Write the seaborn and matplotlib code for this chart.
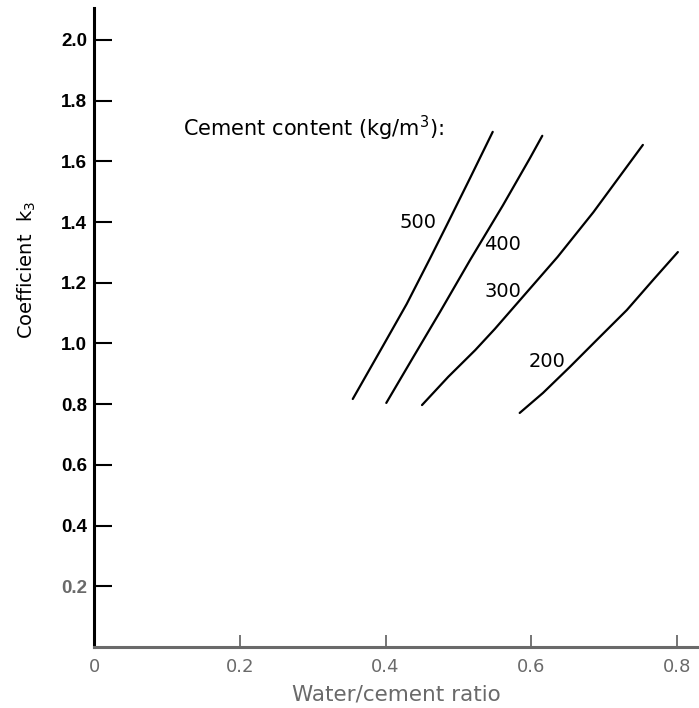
import matplotlib
matplotlib.use("Agg")
import matplotlib.pyplot as plt
import seaborn as sns
import pandas as pd

# ---- data ----
content_levels = ["500", "400", "300", "200"]
wc_500 = [0.355, 0.396, 0.429, 0.461, 0.484, 0.516, 0.547]
k3_500 = [0.817, 0.99, 1.13, 1.28, 1.39, 1.545, 1.697]
wc_400 = [0.401, 0.438, 0.475, 0.516, 0.561, 0.598, 0.615]
k3_400 = [0.804, 0.955, 1.105, 1.275, 1.455, 1.61, 1.684]
wc_300 = [0.450, 0.486, 0.523, 0.550, 0.587, 0.636, 0.685, 0.753]
k3_300 = [0.797, 0.890, 0.978, 1.048, 1.150, 1.285, 1.432, 1.654]
wc_200 = [0.584, 0.616, 0.653, 0.690, 0.731, 0.767, 0.801]
k3_200 = [0.771, 0.837, 0.923, 1.012, 1.110, 1.209, 1.301]
# curve label anchor positions (data coords)
label_x = [0.444, 0.561, 0.561, 0.621]
label_y = [1.40, 1.325, 1.17, 0.94]
x_ticks = [0, 0.2, 0.4, 0.6, 0.8]
x_ticklabels = ["0", "0.2", "0.4", "0.6", "0.8"]
y_ticks = [0.2, 0.4, 0.6, 0.8, 1.0, 1.2, 1.4, 1.6, 1.8, 2.0]

series = {"500": (wc_500, k3_500), "400": (wc_400, k3_400),
          "300": (wc_300, k3_300), "200": (wc_200, k3_200)}
rows = []
for c in content_levels:
    for w, k in zip(*series[c]):
        rows.append({"content": c, "wc": w, "k3": k})
df = pd.DataFrame(rows)

sns.set_style("white")
plt.rcParams["font.family"] = ["DejaVu Sans"]

fig = plt.figure(figsize=(6.99, 7.08), dpi=100)
ax = fig.add_axes([94 / 699, 61 / 708, 605 / 699, 639 / 708])

sns.lineplot(data=df, x="wc", y="k3", hue="content", units="content",
             estimator=None, sort=False, palette=["black"] * 4,
             linewidth=1.6, legend=False, ax=ax)

ax.set_xlim(0, 0.83)
ax.set_ylim(0, 2.105)

for sp in ["top", "right"]:
    ax.spines[sp].set_visible(False)
ax.spines["left"].set_color("black")
ax.spines["left"].set_linewidth(2.2)
ax.spines["bottom"].set_color("#6a6a6a")
ax.spines["bottom"].set_linewidth(2.2)

ax.set_xticks(x_ticks)
ax.set_xticklabels(x_ticklabels)
ax.set_yticks(y_ticks)
ax.set_yticklabels([f"{v:.1f}" for v in y_ticks])

ax.tick_params(axis="y", left=True, direction="in", length=13, width=1.5,
               pad=5, colors="black")
ax.tick_params(axis="x", bottom=True, direction="in", length=9, width=1.3,
               pad=8, labelsize=13, colors="#6a6a6a")
for lab in ax.get_yticklabels():
    lab.set_fontfamily("Liberation Sans")
    lab.set_fontweight("bold")
    lab.set_fontsize(13.5)
ax.get_yticklabels()[0].set_color("#6a6a6a")

ax.set_xlabel("Water/cement ratio", fontsize=15.5, color="#6a6a6a",
              labelpad=6)
ax.set_ylabel("Coefficient  k$_3$", fontsize=14, color="black")
ax.yaxis.set_label_coords(-0.093, 0.59)

ax.text(0.122, 1.71, "Cement content (kg/m$^3$):", fontsize=15,
        ha="left", va="center", color="black")
for c, lx, ly in zip(content_levels, label_x, label_y):
    ax.text(lx, ly, c, fontsize=14, ha="center", va="center", color="black")

ax.grid(False)
fig.savefig("out.png", dpi=100, facecolor="white")
